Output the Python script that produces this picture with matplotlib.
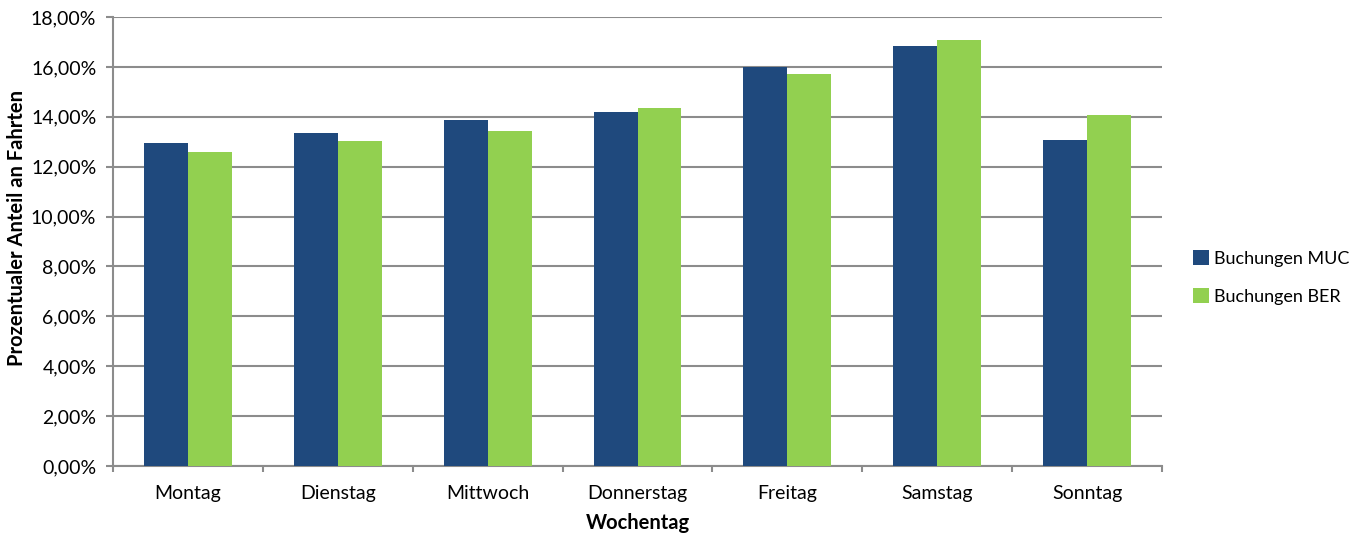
import matplotlib
matplotlib.use('Agg')
import matplotlib.pyplot as plt
import numpy as np
from matplotlib.ticker import FuncFormatter, MultipleLocator

plt.rcParams['font.family'] = ['Lato', 'DejaVu Sans']

# data
tage = ['Montag', 'Dienstag', 'Mittwoch', 'Donnerstag', 'Freitag', 'Samstag', 'Sonntag']
muc = [12.93, 13.33, 13.87, 14.19, 15.99, 16.85, 13.08]
ber = [12.59, 13.04, 13.41, 14.35, 15.71, 17.06, 14.07]

fig = plt.figure(figsize=(13.61, 5.36), dpi=100)
ax = fig.add_axes([113 / 1361, 70 / 536, 1049 / 1361, 449 / 536])

x = np.arange(len(tage))
w = 0.293
ax.bar(x - w / 2, muc, w, color='#1F497D', label='Buchungen MUC', zorder=3)
ax.bar(x + w / 2, ber, w, color='#92D050', label='Buchungen BER', zorder=3)

ax.set_xlim(-0.5, len(tage) - 0.5)
ax.set_ylim(0, 18)
ax.yaxis.set_major_locator(MultipleLocator(2))
ax.yaxis.set_major_formatter(FuncFormatter(lambda v, p: f'{v:.2f}%'.replace('.', ',')))
ax.grid(axis='y', color='#8C8C8C', linewidth=1.5, zorder=0)

ax.set_xticks(x)
ax.set_xticklabels(tage)
# category boundary ticks
ax.set_xticks(np.arange(-0.5, len(tage)), minor=True)
ax.tick_params(axis='x', which='major', length=0, pad=14, labelsize=14)
ax.tick_params(axis='x', which='minor', length=4.5, color='#8C8C8C', width=1.5, direction='out')
ax.tick_params(axis='y', length=5, color='#8C8C8C', width=1.5, labelsize=14, pad=7)

for s in ['top', 'right']:
    ax.spines[s].set_visible(False)
for s in ['left', 'bottom']:
    ax.spines[s].set_color('#8C8C8C')
    ax.spines[s].set_linewidth(1.5)

ax.set_xlabel('Wochentag', fontsize=14.5, fontweight='bold')
ax.xaxis.set_label_coords(0.5, -47 / 449)
ax.set_ylabel('Prozentualer Anteil an Fahrten', fontsize=14.5, fontweight='bold')
ax.yaxis.set_label_coords(-86 / 1049, 0.53)

leg = fig.legend(loc='center left', bbox_to_anchor=(1186 / 1361, 258.5 / 536), frameon=False,
                 fontsize=13, handlelength=0.9, handleheight=0.9, labelspacing=1.15,
                 handletextpad=0.25, borderaxespad=0)

fig.savefig('out.png', dpi=100)
